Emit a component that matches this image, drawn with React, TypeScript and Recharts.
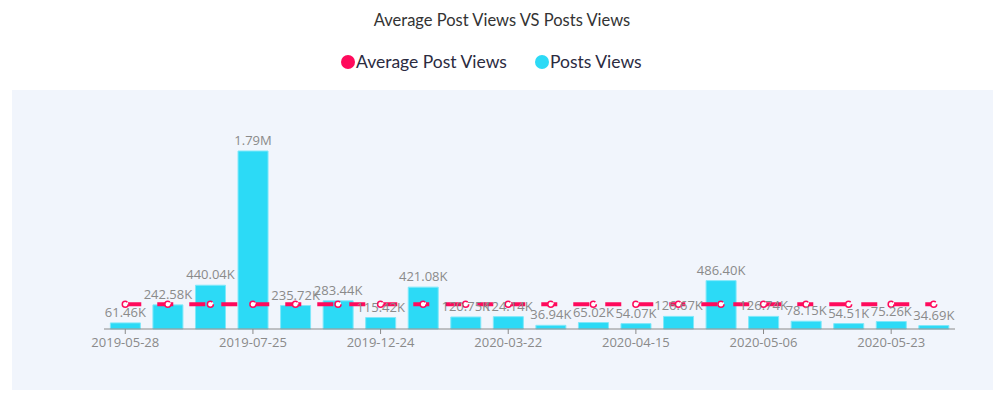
import React from 'react'
import { ComposedChart, Bar, Line, XAxis, YAxis, LabelList } from 'recharts'

const dates = [
  '2019-05-28', '2019-06-14', '2019-07-02', '2019-07-25', '2019-08-19', '2019-10-08',
  '2019-12-24', '2020-01-30', '2020-03-05', '2020-03-22', '2020-03-30', '2020-04-07',
  '2020-04-15', '2020-04-22', '2020-04-29', '2020-05-06', '2020-05-12', '2020-05-18',
  '2020-05-23', '2020-05-29',
]
const postViews = [
  61460, 242580, 440040, 1790000, 235720, 283440, 115420, 421080, 120750, 124140,
  36940, 65020, 54070, 126670, 486400, 126740, 78150, 54510, 75260, 34690,
]
const avgViews = [
  248650, 248650, 248650, 248650, 248650, 248650, 248650, 248650, 248650, 248650,
  248650, 248650, 248650, 248650, 248650, 248650, 248650, 248650, 248650, 248650,
]

const PINK = '#ff0a5c'
const CYAN = '#2cdaf6'

const data = dates.map((d, i) => ({ date: d, posts: postViews[i], avg: avgViews[i] }))

const fmt = (v: any) => {
  const n = Number(v)
  if (n >= 1000000) return (n / 1000000).toFixed(2) + 'M'
  return (n / 1000).toFixed(2) + 'K'
}

const legendText = { position: 'absolute' as const, top: 51, fontFamily: 'Lato', fontSize: 17.5, color: '#2b2b3f', lineHeight: '22px' }
const dotStyle = (c: string, left: number) => ({
  position: 'absolute' as const, left, top: 55, width: 14, height: 14, borderRadius: 7, background: c,
})

export default function App() {
  return (
    <div style={{ position: 'absolute', left: 0, top: 0, width: 1001, height: 399, background: '#fff' }}>
      <div style={{ position: 'absolute', top: 10, left: 0, width: 1004, textAlign: 'center', fontFamily: 'Lato', fontSize: 16.5, color: '#333' }}>
        Average Post Views VS Posts Views
      </div>
      <div style={dotStyle(PINK, 341)} />
      <div style={{ ...legendText, left: 356 }}>Average Post Views</div>
      <div style={dotStyle(CYAN, 535)} />
      <div style={{ ...legendText, left: 550 }}>Posts Views</div>
      <div style={{ position: 'absolute', left: 12, top: 90, width: 981, height: 300, background: '#f1f5fc' }} />
      <div style={{ position: 'absolute', left: 0, top: 0 }}>
        <ComposedChart width={1001} height={399} data={data} margin={{ top: 151, right: 46, left: 104, bottom: 40 }} barCategoryGap="15%">
          <XAxis
            dataKey="date"
            interval={2}
            axisLine={{ stroke: '#8a8a8a' }}
            tickLine={{ stroke: '#8a8a8a' }}
            tickSize={5}
            tickMargin={4}
            tick={{ fill: '#8a8a8a', fontSize: 13, fontFamily: 'Open Sans' }}
          />
          <YAxis hide domain={[0, 'dataMax']} />
          <Bar dataKey="posts" fill={CYAN} stroke="#7fe8fa" strokeWidth={1} isAnimationActive={false}>
            <LabelList dataKey="posts" position="top" formatter={fmt} fill="#8a8a8a" fontSize={13} fontFamily="Open Sans" offset={6} />
          </Bar>
          <Line
            type="linear"
            dataKey="avg"
            stroke={PINK}
            strokeWidth={4}
            strokeDasharray="16 16"
            dot={{ r: 3, fill: '#fff', stroke: PINK, strokeWidth: 1.5 }}
            activeDot={false}
            isAnimationActive={false}
          />
        </ComposedChart>
      </div>
    </div>
  )
}
